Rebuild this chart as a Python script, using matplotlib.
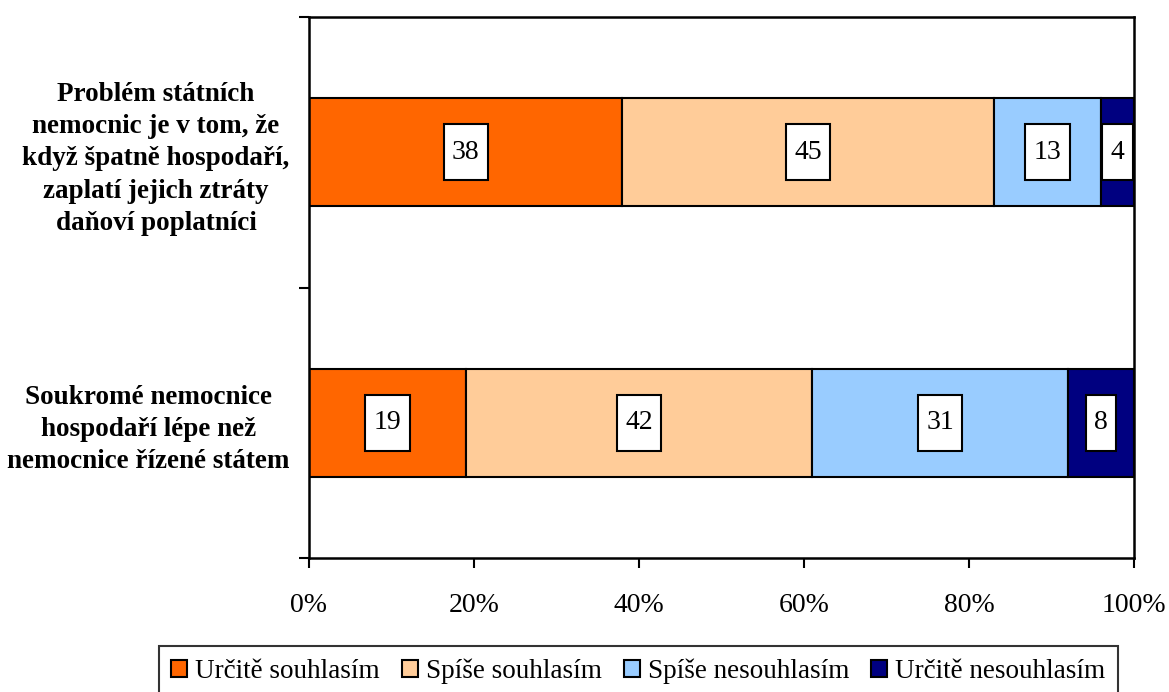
import matplotlib.pyplot as plt
from matplotlib.path import Path
from matplotlib.ticker import PercentFormatter

plt.rcParams['font.family'] = ['Liberation Serif', 'DejaVu Serif']

# survey statements (bottom to top) and answer shares in percent
statements = [
    "Soukromé nemocnice\nhospodaří lépe než\nnemocnice řízené státem",
    "Problém státních\nnemocnic je v tom, že\nkdyž špatně hospodaří,\nzaplatí jejich ztráty\ndaňoví poplatníci",
]
answers = ["Určitě souhlasím", "Spíše souhlasím", "Spíše nesouhlasím", "Určitě nesouhlasím"]
colors = ["#FF6600", "#FFCC99", "#99CCFF", "#000080"]

urcite_souhlas = [19, 38]
spise_souhlas = [42, 45]
spise_nesouhlas = [31, 13]
urcite_nesouhlas = [8, 4]
series = [urcite_souhlas, spise_souhlas, spise_nesouhlas, urcite_nesouhlas]


def tall_box(x0, y0, width, height, mutation_size):
    # rectangle with more padding above/below than left/right
    px = 0.3 * mutation_size
    py = 0.55 * mutation_size
    x0, y0 = x0 - px, y0 - py
    x1, y1 = x0 + width + 2 * px, y0 + height + 2 * py
    verts = [(x0, y0), (x1, y0), (x1, y1), (x0, y1), (x0, y0)]
    codes = [Path.MOVETO, Path.LINETO, Path.LINETO, Path.LINETO, Path.CLOSEPOLY]
    return Path(verts, codes)


fig = plt.figure(figsize=(11.69, 6.92), dpi=100)
ax = fig.add_axes([0.2643, 0.1936, 0.7057, 0.7818])

ypos = list(range(len(statements)))
left = [0] * len(statements)
for name, vals, col in zip(answers, series, colors):
    bars = ax.barh(ypos, vals, left=left, height=0.4, color=col,
                   edgecolor='black', linewidth=1.5, label=name)
    for b, v in zip(bars, vals):
        ax.text(b.get_x() + b.get_width() / 2, b.get_y() + b.get_height() / 2,
                f"{v}", ha='center', va='center', fontsize=20,
                bbox=dict(boxstyle=tall_box, facecolor='white',
                          edgecolor='black', linewidth=1.5))
    left = [l + v for l, v in zip(left, vals)]

ax.set_xlim(0, 100)
ax.set_ylim(-0.5, 1.5)
ax.xaxis.set_major_formatter(PercentFormatter(decimals=0))
ax.set_xticks([0, 20, 40, 60, 80, 100])
ax.tick_params(axis='x', labelsize=20, length=7, width=1.5, pad=18)

ax.set_yticks(ypos)
ax.set_yticklabels(statements, fontsize=19.5, fontweight='bold')
for lbl in ax.get_yticklabels():
    lbl.set_multialignment('center')
    lbl.set_linespacing(1.38)
ax.tick_params(axis='y', which='major', length=0, pad=14)
ax.set_yticks([-0.5, 0.5, 1.5], minor=True)
ax.tick_params(axis='y', which='minor', length=7, width=1.5)

for sp in ax.spines.values():
    sp.set_linewidth(1.8)

handles, labels = ax.get_legend_handles_labels()
leg = fig.legend(handles, labels, loc='lower center', bbox_to_anchor=(0.546, -0.006),
                 ncol=4, fontsize=19.5, frameon=True, fancybox=False,
                 edgecolor='black', handlelength=0.6, handleheight=0.6,
                 handletextpad=0.3, columnspacing=0.8, borderpad=0.45,
                 borderaxespad=0)
leg.get_frame().set_linewidth(1.5)

fig.savefig("out.png", dpi=100)
